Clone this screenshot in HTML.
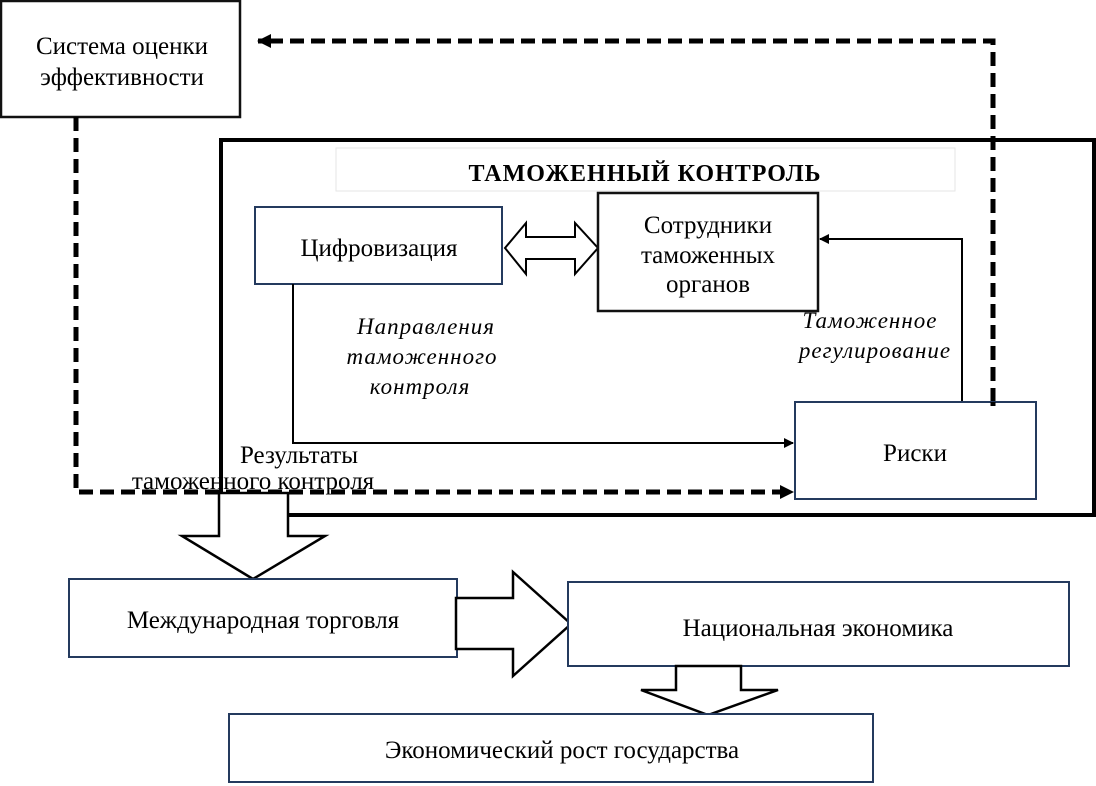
<!DOCTYPE html>
<html><head><meta charset="utf-8"><style>
html,body{margin:0;padding:0;background:#fff;}
svg{display:block;}
text{font-family:"Liberation Serif","DejaVu Serif",serif;font-size:25px;fill:#000;}
.it{font-style:italic;font-size:23px;}
</style></head><body>
<svg width="1096" height="786" viewBox="0 0 1096 786" xmlns="http://www.w3.org/2000/svg">
<defs>
<marker id="ah" markerWidth="10" markerHeight="10" refX="9" refY="5" orient="auto" markerUnits="userSpaceOnUse" viewBox="0 0 10 10">
<path d="M0,0 L10,5 L0,10 z" fill="#000"/></marker>
<marker id="ah2" markerWidth="14" markerHeight="14" refX="13" refY="7" orient="auto" markerUnits="userSpaceOnUse" viewBox="0 0 14 14">
<path d="M0,0 L14,7 L0,14 z" fill="#000"/></marker>
</defs>
<rect x="1" y="1" width="239" height="116" fill="#fff" stroke="#111" stroke-width="2.5"/>
<text x="122" y="54" text-anchor="middle">Система оценки</text>
<text x="122" y="85" text-anchor="middle">эффективности</text>
<rect x="221" y="140" width="873" height="375" fill="none" stroke="#000" stroke-width="4"/>
<rect x="336" y="148" width="619" height="43" fill="#fff" stroke="#e6e6e6" stroke-width="1"/>
<text x="645" y="181" text-anchor="middle" style="font-weight:bold;letter-spacing:1px;font-size:24px">ТАМОЖЕННЫЙ КОНТРОЛЬ</text>
<polyline points="993,402 993,41 258,41" fill="none" stroke="#000" stroke-width="5" stroke-dasharray="14,7" marker-end="url(#ah2)"/>
<rect x="255" y="207" width="247" height="77" fill="#fff" stroke="#243a5e" stroke-width="2"/>
<text x="379" y="256" text-anchor="middle">Цифровизация</text>
<polygon points="505,248 526,223 526,237 575,237 575,223 598,248 575,274 575,259 526,259 526,274" fill="#fff" stroke="#000" stroke-width="2"/>
<rect x="598" y="193" width="220" height="118" fill="#fff" stroke="#111" stroke-width="2.5"/>
<text x="708" y="233" text-anchor="middle">Сотрудники</text>
<text x="708" y="263" text-anchor="middle">таможенных</text>
<text x="708" y="292" text-anchor="middle">органов</text>
<polyline points="293,284 293,443 793,443" fill="none" stroke="#000" stroke-width="2" marker-end="url(#ah)"/>
<polyline points="962,404 962,239 820,239" fill="none" stroke="#000" stroke-width="2" marker-end="url(#ah)"/>
<polyline points="76,117 76,492 793,492" fill="none" stroke="#000" stroke-width="5" stroke-dasharray="14,7" marker-end="url(#ah2)"/>
<rect x="795" y="402" width="241" height="97" fill="#fff" stroke="#243a5e" stroke-width="2"/>
<text x="915" y="461" text-anchor="middle">Риски</text>
<line x1="993" y1="402" x2="993" y2="406" stroke="#000" stroke-width="5"/>
<text class="it" x="426" y="334" text-anchor="middle" style="letter-spacing:1px">Направления</text>
<text class="it" x="422" y="364" text-anchor="middle" style="letter-spacing:1px">таможенного</text>
<text class="it" x="420" y="394" text-anchor="middle" style="letter-spacing:1px">контроля</text>
<text class="it" x="870" y="328" text-anchor="middle" style="letter-spacing:1px">Таможенное</text>
<text class="it" x="875" y="358" text-anchor="middle" style="letter-spacing:1px">регулирование</text>
<text x="299" y="463" text-anchor="middle">Результаты</text>
<text x="253" y="489" text-anchor="middle">таможенного контроля</text>
<polygon points="219,493 288,493 288,536 325,536 253,579 182,536 219,536" fill="#fff" stroke="#000" stroke-width="2.5"/>
<rect x="69" y="579" width="388" height="78" fill="#fff" stroke="#243a5e" stroke-width="2"/>
<text x="263" y="628" text-anchor="middle">Международная торговля</text>
<polygon points="456,598 513,598 513,572 571,624 513,676 513,649 456,649" fill="#fff" stroke="#000" stroke-width="2.5"/>
<rect x="568" y="582" width="501" height="84" fill="#fff" stroke="#243a5e" stroke-width="2"/>
<text x="818" y="636" text-anchor="middle">Национальная экономика</text>
<polygon points="676,666 741,666 741,690 778,690 708,715 641,690 676,690" fill="#fff" stroke="#000" stroke-width="2.5"/>
<rect x="229" y="714" width="644" height="68" fill="#fff" stroke="#243a5e" stroke-width="2"/>
<text x="562" y="758" text-anchor="middle">Экономический рост государства</text>
</svg>
</body></html>
